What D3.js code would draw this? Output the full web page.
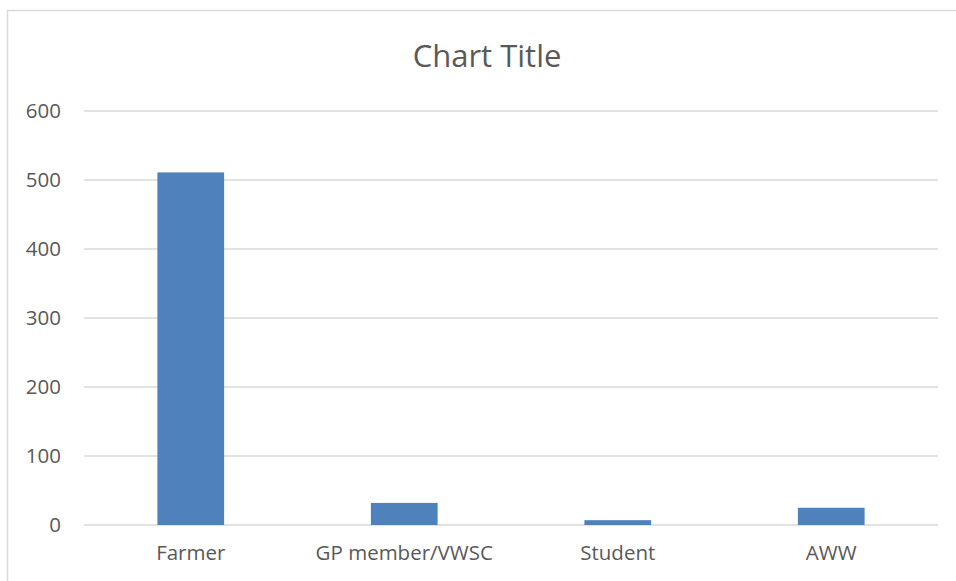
<!DOCTYPE html>
<html lang="en">
<head>
    <meta charset="UTF-8">
    <title>Chart Title</title>
    <style>
        body {
            margin: 0;
            background: white;
        }

        svg {
            display: block;
        }

        text {
            font-family: "Open Sans", sans-serif;
            fill: #595959;
        }

        .grid line {
            stroke: #d9d9d9;
            stroke-width: 1.3;
        }
    </style>
</head>
<body>
<svg class="chart"></svg>
<script src="https://cdn.jsdelivr.net/npm/d3@7"></script>
<script>

const categories = ["Farmer", "GP member/VWSC", "Student", "AWW"];
const values = [511, 32, 7, 25];
const yTicks = [0, 100, 200, 300, 400, 500, 600];

const width = 956,
    height = 581;

const margin = { top: 111, right: 18, bottom: 56, left: 84 };

const svg = d3.select("svg")
    .attr("width", width)
    .attr("height", height);

// outer chart border, cut off at right and bottom like the original
svg.append("rect")
    .attr("x", 7.5)
    .attr("y", 10.5)
    .attr("width", 1200)
    .attr("height", 1200)
    .attr("fill", "none")
    .attr("stroke", "#d9d9d9")
    .attr("stroke-width", 1.5);

const x = d3.scaleBand()
    .domain(categories)
    .range([margin.left, width - margin.right])
    .paddingInner(0.6875)
    .paddingOuter(0.34375);

const y = d3.scaleLinear()
    .domain([0, 600])
    .range([height - margin.bottom, margin.top]);

svg.append("g")
    .attr("class", "grid")
    .selectAll("line")
    .data(yTicks)
    .join("line")
    .attr("x1", margin.left)
    .attr("x2", width - margin.right)
    .attr("y1", d => y(d))
    .attr("y2", d => y(d));

svg.append("g")
    .selectAll("text")
    .data(yTicks)
    .join("text")
    .attr("x", 61)
    .attr("y", d => y(d))
    .attr("dy", "0.35em")
    .attr("text-anchor", "end")
    .style("font-size", "20.5px")
    .text(d => d);

svg.append("g")
    .selectAll("rect")
    .data(values)
    .join("rect")
    .attr("x", (d, i) => x(categories[i]))
    .attr("width", x.bandwidth())
    .attr("y", d => y(d))
    .attr("height", d => y(0) - y(d))
    .attr("fill", "#4f81bd");

svg.append("g")
    .selectAll("text")
    .data(categories)
    .join("text")
    .attr("x", d => x(d) + x.bandwidth() / 2)
    .attr("y", 553)
    .attr("dy", "0.35em")
    .attr("text-anchor", "middle")
    .style("font-size", "20.5px")
    .text(d => d);

svg.append("text")
    .attr("x", 487)
    .attr("y", 56)
    .attr("dy", "0.35em")
    .attr("text-anchor", "middle")
    .style("font-size", "31px")
    .text("Chart Title");

</script>
</body>
</html>
